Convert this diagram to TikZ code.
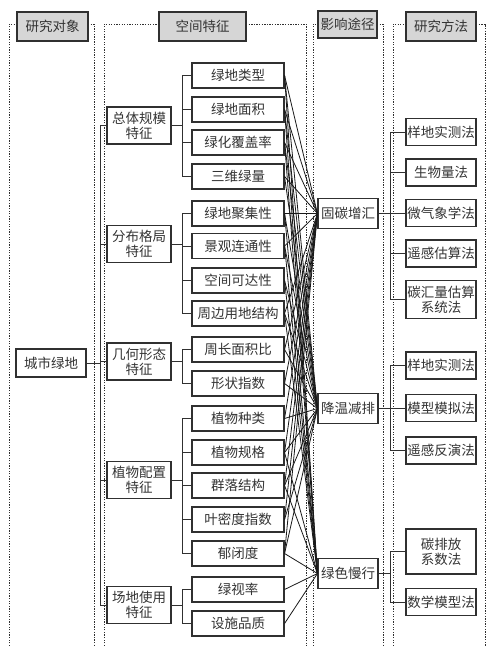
\documentclass[tikz,border=0pt]{standalone}
\usepackage{fontspec}
\setmainfont{Noto Sans CJK SC}
\definecolor{txt}{HTML}{333333}
\definecolor{bord}{HTML}{303030}
\definecolor{hfill}{HTML}{D6D6D6}
\begin{document}
\begin{tikzpicture}[x=1pt,y=-1pt,
  box/.style={draw=bord,line width=1.1pt,text=txt,inner sep=0.5pt,font=\fontsize{13.5}{15}\selectfont,align=center},
  hdr/.style={box,fill=hfill},
  feat/.style={box,minimum width=92pt,minimum height=25pt},
  cat/.style={box,minimum width=64pt,minimum height=37pt},
  meth/.style={box,minimum width=70pt,minimum height=27pt},
  path/.style={box,minimum width=60pt,minimum height=30pt},
  frame/.style={line width=0.9pt,dash pattern=on 1.3pt off 1.3pt,draw=bord},
  link/.style={line width=0.8pt,draw=black!90},
  brk/.style={line width=1pt,draw=bord}]
\useasboundingbox (0,0) rectangle (487,646);
% headers
\node[hdr,minimum width=71pt,minimum height=29pt] (h1) at (52.5,26.5) {研究对象};
\node[hdr,minimum width=87pt,minimum height=29pt] (h2) at (202.5,26.5) {空间特征};
\node[hdr,minimum width=59pt,minimum height=27pt] (h3) at (347.5,24.5) {影响途径};
\node[hdr,minimum width=70pt,minimum height=29pt] (h4) at (441,26.5) {研究方法};
% dotted frames
\draw[frame] (9,646) -- (9,24) -- (17,24);
\draw[frame] (88,24) -- (94,24) -- (94,646);
\draw[frame] (104,646) -- (104,24) -- (159,24);
\draw[frame] (246,24) -- (306,24) -- (306,646);
\draw[frame] (313,646) -- (313,24) -- (318,24);
\draw[frame] (377,24) -- (383,24) -- (383,646);
\draw[frame] (393,646) -- (393,24) -- (406,24);
\draw[frame] (476,24) -- (485,24) -- (485,646);
% root
\node[box,minimum width=70pt,minimum height=28pt] (root) at (51,363) {城市绿地};
% categories
\node[cat] (c1) at (139,125.5) {总体规模\\特征};
\node[cat] (c2) at (139,244) {分布格局\\特征};
\node[cat] (c3) at (139,361.5) {几何形态\\特征};
\node[cat] (c4) at (139,480) {植物配置\\特征};
\node[cat] (c5) at (139,605) {场地使用\\特征};
% features
\node[feat] (f1) at (238,75.5) {绿地类型};
\node[feat] (f2) at (238,109.5) {绿地面积};
\node[feat] (f3) at (238,142.5) {绿化覆盖率};
\node[feat] (f4) at (238,176.5) {三维绿量};
\node[feat] (f5) at (238,213.5) {绿地聚集性};
\node[feat] (f6) at (238,246) {景观连通性};
\node[feat] (f7) at (238,280.5) {空间可达性};
\node[feat] (f8) at (238,313.5) {周边用地结构};
\node[feat] (f9) at (238,349.5) {周长面积比};
\node[feat] (f10) at (238,383.5) {形状指数};
\node[feat] (f11) at (238,418.5) {植物种类};
\node[feat] (f12) at (238,452.5) {植物规格};
\node[feat] (f13) at (238,485.5) {群落结构};
\node[feat] (f14) at (238,519.5) {叶密度指数};
\node[feat] (f15) at (238,553.5) {郁闭度};
\node[feat] (f16) at (238,589.5) {绿视率};
\node[feat] (f17) at (238,623.5) {设施品质};
% pathways
\node[path] (p1) at (348,213.5) {固碳增汇};
\node[path] (p2) at (348,408.5) {降温减排};
\node[path] (p3) at (348,573.5) {绿色慢行};
% methods
\node[meth] (m1) at (441,132) {样地实测法};
\node[meth] (m2) at (441,172.5) {生物量法};
\node[meth] (m3) at (441,213) {微气象学法};
\node[meth] (m4) at (441,253.5) {遥感估算法};
\node[meth,minimum height=38pt] (m5) at (441,299.5) {碳汇量估算\\系统法};
\node[meth] (m6) at (441,365.5) {样地实测法};
\node[meth] (m7) at (441,408) {模型模拟法};
\node[meth] (m8) at (441,450.5) {遥感反演法};
\node[meth,minimum height=45pt] (m9) at (441,551.5) {碳排放\\系数法};
\node[meth] (m10) at (441,602) {数学模型法};
% root trunk
\foreach \c in {c1,c2,c3,c4,c5} \draw[brk] (root.east) -- ++(14,0) |- (\c.west);
% category brackets
\foreach \c/\l in {c1/{f1,f2,f3,f4},c2/{f5,f6,f7,f8},c3/{f9,f10},c4/{f11,f12,f13,f14,f15},c5/{f16,f17}}
  \foreach \f in \l \draw[brk] (\c.east) -- ++(11,0) |- (\f.west);
% method brackets
\foreach \p/\l in {p1/{m1,m2,m3,m4,m5},p2/{m6,m7,m8},p3/{m9,m10}}
  \foreach \m in \l \draw[brk] (\p.east) -- ++(12,0) |- (\m.west);
% feature-pathway links
\foreach \f/\l in {f1/{p1,p2,p3},f2/{p1,p2,p3},f3/{p1,p2,p3},f4/{p1,p2},f5/{p1,p2,p3},f6/{p1,p2,p3},f7/{p2,p3},f8/{p1,p2,p3},f9/{p1,p2},f10/{p1,p2},f11/{p1,p2},f12/{p1,p2,p3},f13/{p1,p2,p3},f14/{p1,p2},f15/{p1,p2,p3},f16/{p3},f17/{p3}}
  \foreach \p in \l \draw[link] (\f.east) -- (\p.west);
\end{tikzpicture}
\end{document}
